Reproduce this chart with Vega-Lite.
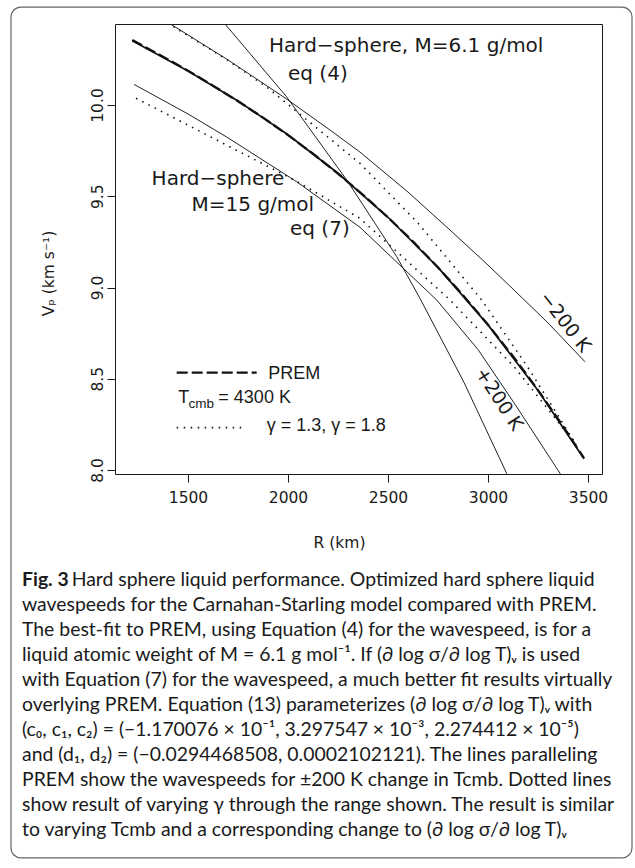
{
  "$schema": "https://vega.github.io/schema/vega-lite/v6.json",
  "width": 487,
  "height": 450,
  "autosize": {"type": "none"},
  "padding": {"left": 115, "top": 24, "right": 33, "bottom": 394},
  "background": "white",
  "config": {
    "view": {"stroke": "#1a1a1a", "strokeWidth": 1},
    "axis": {
      "grid": false, "domain": false, "tickColor": "#1a1a1a", "tickSize": 8, "tickWidth": 1,
      "labelColor": "#1a1a1a", "labelFont": "DejaVu Sans", "labelFontSize": 15.5,
      "titleFont": "DejaVu Sans", "titleFontSize": 15.5, "titleFontWeight": "normal", "titleColor": "#1a1a1a"
    }
  },
  "title": {
    "text": "Fig. 3",
    "subtitle": [
      "\u200b\u00a0\u00a0\u00a0\u00a0\u00a0\u00a0\u00a0\u00a0\u00a0\u00a0Hard sphere liquid performance. Optimized hard sphere liquid",
      "wavespeeds for the Carnahan-Starling model compared with PREM.",
      "The best-fit to PREM, using Equation (4) for the wavespeed, is for a",
      "liquid atomic weight of M = 6.1 g mol⁻¹. If (∂ log σ/∂ log T)ᵥ is used",
      "with Equation (7) for the wavespeed, a much better fit results virtually",
      "overlying PREM. Equation (13) parameterizes (∂ log σ/∂ log T)ᵥ with",
      "(c₀, c₁, c₂) = (−1.170076 × 10⁻¹, 3.297547 × 10⁻³, 2.274412 × 10⁻⁵)",
      "and (d₁, d₂) = (−0.0294468508, 0.0002102121). The lines paralleling",
      "PREM show the wavespeeds for ±200 K change in Tcmb. Dotted lines",
      "show result of varying γ through the range shown. The result is similar",
      "to varying Tcmb and a corresponding change to (∂ log σ/∂ log T)ᵥ"
    ],
    "orient": "bottom",
    "anchor": "start",
    "frame": "group",
    "dx": -93,
    "offset": -288,
    "font": "Lato",
    "fontSize": 19.4,
    "fontWeight": "bold",
    "color": "#1a1a1a",
    "subtitleFont": "Lato",
    "subtitleFontSize": 19.4,
    "subtitleFontWeight": "normal",
    "subtitleColor": "#1a1a1a",
    "subtitleLineHeight": 25,
    "subtitlePadding": -19.4
  },
  "datasets": {
    "curves": [
      {"curve": "PREM", "R": 1221.5, "V": 10.356},
      {"curve": "PREM", "R": 1375, "V": 10.265},
      {"curve": "PREM", "R": 1500, "V": 10.188},
      {"curve": "PREM", "R": 1625, "V": 10.106},
      {"curve": "PREM", "R": 1750, "V": 10.021},
      {"curve": "PREM", "R": 1875, "V": 9.931},
      {"curve": "PREM", "R": 2000, "V": 9.835},
      {"curve": "PREM", "R": 2125, "V": 9.733},
      {"curve": "PREM", "R": 2250, "V": 9.624},
      {"curve": "PREM", "R": 2375, "V": 9.508},
      {"curve": "PREM", "R": 2500, "V": 9.384},
      {"curve": "PREM", "R": 2625, "V": 9.252},
      {"curve": "PREM", "R": 2750, "V": 9.110},
      {"curve": "PREM", "R": 2875, "V": 8.958},
      {"curve": "PREM", "R": 3000, "V": 8.796},
      {"curve": "PREM", "R": 3125, "V": 8.623},
      {"curve": "PREM", "R": 3250, "V": 8.438},
      {"curve": "PREM", "R": 3375, "V": 8.240},
      {"curve": "PREM", "R": 3480, "V": 8.065},

      {"curve": "Hard-sphere M=15 eq (7)", "R": 1221.5, "V": 10.352},
      {"curve": "Hard-sphere M=15 eq (7)", "R": 1500, "V": 10.186},
      {"curve": "Hard-sphere M=15 eq (7)", "R": 1750, "V": 10.022},
      {"curve": "Hard-sphere M=15 eq (7)", "R": 2000, "V": 9.837},
      {"curve": "Hard-sphere M=15 eq (7)", "R": 2250, "V": 9.626},
      {"curve": "Hard-sphere M=15 eq (7)", "R": 2500, "V": 9.385},
      {"curve": "Hard-sphere M=15 eq (7)", "R": 2750, "V": 9.110},
      {"curve": "Hard-sphere M=15 eq (7)", "R": 3000, "V": 8.795},
      {"curve": "Hard-sphere M=15 eq (7)", "R": 3250, "V": 8.436},
      {"curve": "Hard-sphere M=15 eq (7)", "R": 3480, "V": 8.062},

      {"curve": "Hard-sphere M=6.1 eq (4)", "R": 1650, "V": 10.49},
      {"curve": "Hard-sphere M=6.1 eq (4)", "R": 1688, "V": 10.44},
      {"curve": "Hard-sphere M=6.1 eq (4)", "R": 1993, "V": 10.045},
      {"curve": "Hard-sphere M=6.1 eq (4)", "R": 2293, "V": 9.59},
      {"curve": "Hard-sphere M=6.1 eq (4)", "R": 2543, "V": 9.17},
      {"curve": "Hard-sphere M=6.1 eq (4)", "R": 2660, "V": 8.94},
      {"curve": "Hard-sphere M=6.1 eq (4)", "R": 2880, "V": 8.48},
      {"curve": "Hard-sphere M=6.1 eq (4)", "R": 3093, "V": 7.982},
      {"curve": "Hard-sphere M=6.1 eq (4)", "R": 3110, "V": 7.94},

      {"curve": "Tcmb -200 K", "R": 1380, "V": 10.465},
      {"curve": "Tcmb -200 K", "R": 1418, "V": 10.44},
      {"curve": "Tcmb -200 K", "R": 1700, "V": 10.247},
      {"curve": "Tcmb -200 K", "R": 1993, "V": 10.033},
      {"curve": "Tcmb -200 K", "R": 2210, "V": 9.863},
      {"curve": "Tcmb -200 K", "R": 2360, "V": 9.742},
      {"curve": "Tcmb -200 K", "R": 2600, "V": 9.523},
      {"curve": "Tcmb -200 K", "R": 2810, "V": 9.315},
      {"curve": "Tcmb -200 K", "R": 3000, "V": 9.123},
      {"curve": "Tcmb -200 K", "R": 3151, "V": 8.964},
      {"curve": "Tcmb -200 K", "R": 3301, "V": 8.805},
      {"curve": "Tcmb -200 K", "R": 3485, "V": 8.593},

      {"curve": "Tcmb +200 K", "R": 1230, "V": 10.113},
      {"curve": "Tcmb +200 K", "R": 1500, "V": 9.951},
      {"curve": "Tcmb +200 K", "R": 1693, "V": 9.825},
      {"curve": "Tcmb +200 K", "R": 2043, "V": 9.58},
      {"curve": "Tcmb +200 K", "R": 2360, "V": 9.33},
      {"curve": "Tcmb +200 K", "R": 2743, "V": 8.932},
      {"curve": "Tcmb +200 K", "R": 2950, "V": 8.66},
      {"curve": "Tcmb +200 K", "R": 3135, "V": 8.36},
      {"curve": "Tcmb +200 K", "R": 3360, "V": 7.982},
      {"curve": "Tcmb +200 K", "R": 3380, "V": 7.94},

      {"curve": "gamma 1.8", "R": 1240, "V": 10.037},
      {"curve": "gamma 1.8", "R": 1500, "V": 9.89},
      {"curve": "gamma 1.8", "R": 1693, "V": 9.78},
      {"curve": "gamma 1.8", "R": 2030, "V": 9.59},
      {"curve": "gamma 1.8", "R": 2360, "V": 9.379},
      {"curve": "gamma 1.8", "R": 2810, "V": 8.932},
      {"curve": "gamma 1.8", "R": 3135, "V": 8.56},
      {"curve": "gamma 1.8", "R": 3440, "V": 8.14},

      {"curve": "gamma 1.3", "R": 1427, "V": 10.43},
      {"curve": "gamma 1.3", "R": 1700, "V": 10.245},
      {"curve": "gamma 1.3", "R": 1900, "V": 10.093},
      {"curve": "gamma 1.3", "R": 2360, "V": 9.68},
      {"curve": "gamma 1.3", "R": 2650, "V": 9.353},
      {"curve": "gamma 1.3", "R": 2968, "V": 8.932},
      {"curve": "gamma 1.3", "R": 3200, "V": 8.562},
      {"curve": "gamma 1.3", "R": 3440, "V": 8.14}
    ]
  },
  "encoding": {
    "x": {"field": "R", "type": "quantitative",
      "scale": {"domain": [1135, 3570], "nice": false, "zero": false},
      "axis": {"values": [1500, 2000, 2500, 3000, 3500], "format": "d", "labelBaseline": "alphabetic", "labelPadding": 20.7,
        "labelFlush": false, "labelOverlap": false, "title": "R (km)", "titleX": 224, "titleY": 73.7,
        "titleAlign": "center", "titleBaseline": "alphabetic"}},
    "y": {"field": "V", "type": "quantitative",
      "scale": {"domain": [7.978, 10.444], "nice": false, "zero": false},
      "axis": {"values": [8, 8.5, 9, 9.5, 10], "format": ".1f", "labelAngle": 270, "labelAlign": "center",
        "labelBaseline": "alphabetic", "labelPadding": 4.3, "labelFlush": false, "labelOverlap": false,
        "title": "Vₚ (km s⁻¹)", "titleAngle": 270, "titleX": -67, "titleY": 249, "titleAlign": "center", "titleBaseline": "middle"}}
  },
  "layer": [
    {
      "data": {"values": [{"frame": "figure", "R": 615, "R2": 3720, "V": 10.537, "V2": 5.874}]},
      "mark": {"type": "rect", "filled": false, "color": "#666666", "strokeWidth": 1.2, "cornerRadius": 10, "clip": false},
      "encoding": {
        "x2": {"field": "R2"},
        "y2": {"field": "V2"}
      }
    },
    {
      "data": {"name": "curves"},
      "transform": [{"filter": "datum.curve === 'Hard-sphere M=15 eq (7)'"}],
      "mark": {"type": "line", "clip": true, "color": "#111111", "strokeWidth": 1.7},
      "encoding": {"detail": {"field": "curve"}}
    },
    {
      "data": {"name": "curves"},
      "transform": [{"filter": "datum.curve === 'PREM'"}],
      "mark": {"type": "line", "clip": true, "color": "#111111", "strokeWidth": 2.3, "strokeDash": [11, 4]},
      "encoding": {"detail": {"field": "curve"}}
    },
    {
      "data": {"name": "curves"},
      "transform": [{"filter": "datum.curve === 'Hard-sphere M=6.1 eq (4)' || datum.curve === 'Tcmb -200 K' || datum.curve === 'Tcmb +200 K'"}],
      "mark": {"type": "line", "clip": true, "color": "#222222", "strokeWidth": 1},
      "encoding": {"detail": {"field": "curve"}}
    },
    {
      "data": {"name": "curves"},
      "transform": [{"filter": "datum.curve === 'gamma 1.3' || datum.curve === 'gamma 1.8'"}],
      "mark": {"type": "line", "clip": true, "color": "#111111", "strokeWidth": 1.6, "strokeDash": [1.5, 5.5]},
      "encoding": {"detail": {"field": "curve"}}
    },
    {
      "data": {"values": [{"item": "PREM", "R": 1443.5, "V": 8.533}, {"item": "PREM", "R": 1843.5, "V": 8.533}]},
      "mark": {"type": "line", "color": "#111111", "strokeWidth": 2.2, "strokeDash": [11, 4]},
      "encoding": {}
    },
    {
      "data": {"values": [{"item": "gamma", "R": 1443.5, "V": 8.232}, {"item": "gamma", "R": 1785, "V": 8.232}]},
      "mark": {"type": "line", "color": "#111111", "strokeWidth": 1.6, "strokeDash": [1.5, 5.5]},
      "encoding": {}
    },
    {
      "data": {"values": [
        {"label": "Hard−sphere, M=6.1 g/mol", "R": 1905, "V": 10.293},
        {"label": "eq (4)", "R": 2000, "V": 10.137},
        {"label": "Hard−sphere", "R": 1318, "V": 9.562},
        {"label": "M=15 g/mol", "R": 1518, "V": 9.419},
        {"label": "eq (7)", "R": 2010, "V": 9.288}
      ]},
      "mark": {"type": "text", "align": "left", "baseline": "alphabetic", "font": "DejaVu Sans", "fontSize": 20, "color": "#1a1a1a"},
      "encoding": {"text": {"field": "label"}}
    },
    {
      "data": {"values": [{"label": "−200 K", "R": 3385, "V": 8.811}]},
      "mark": {"type": "text", "align": "center", "baseline": "middle", "font": "DejaVu Sans", "fontSize": 19, "angle": 52, "color": "#1a1a1a"},
      "encoding": {"text": {"field": "label"}}
    },
    {
      "data": {"values": [{"label": "+200 K", "R": 3055, "V": 8.389}]},
      "mark": {"type": "text", "align": "center", "baseline": "middle", "font": "DejaVu Sans", "fontSize": 19, "angle": 57, "color": "#1a1a1a"},
      "encoding": {"text": {"field": "label"}}
    },
    {
      "data": {"values": [
        {"label": "PREM", "R": 1901.7, "V": 8.496},
        {"label": "T", "R": 1451.5, "V": 8.3655},
        {"label": "= 4300 K", "R": 1651.7, "V": 8.3655},
        {"label": "γ = 1.3, γ = 1.8", "R": 1893.5, "V": 8.2153}
      ]},
      "mark": {"type": "text", "align": "left", "baseline": "alphabetic", "font": "Liberation Sans", "fontSize": 18, "color": "#1a1a1a"},
      "encoding": {"text": {"field": "label"}}
    },
    {
      "data": {"values": [{"label": "cmb", "R": 1502, "V": 8.340}]},
      "mark": {"type": "text", "align": "left", "baseline": "alphabetic", "font": "Liberation Sans", "fontSize": 13.5, "color": "#1a1a1a"},
      "encoding": {"text": {"field": "label"}}
    }
  ]
}
